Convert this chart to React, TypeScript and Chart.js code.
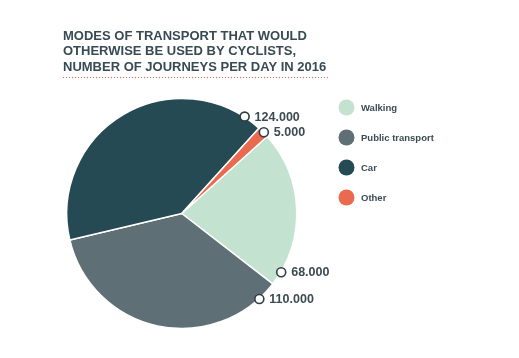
import React, { useEffect, useRef } from "react";
import { Chart, registerables } from "chart.js";

Chart.register(...registerables);

const categories = ["Walking", "Public transport", "Car", "Other"];
const journeys = [68000, 110000, 124000, 5000];
const valueLabels = ["68.000", "110.000", "124.000", "5.000"];
const titleLines = [
  "MODES OF TRANSPORT THAT WOULD",
  "OTHERWISE BE USED BY CYCLISTS,",
  "NUMBER OF JOURNEYS PER DAY IN 2016",
];
const colors = ["#c3e2cf", "#5f6f76", "#264a53", "#ea6a50"];
const markerFractions = [0.91, 0.078, 0.937, 0.54];

const TEXT = "#3c4b52";

const decorPlugin = {
  id: "decor",
  afterDraw(chart: any) {
    const ctx = chart.ctx as CanvasRenderingContext2D;
    ctx.save();
    // title
    ctx.fillStyle = "#384a53";
    ctx.font = "bold 13px 'Liberation Sans', Arial, sans-serif";
    ctx.textBaseline = "alphabetic";
    ctx.textAlign = "left";
    titleLines.forEach((t, i) => {
      ctx.fillText(t, 63, 40 + i * 15.3);
    });
    // dotted line
    ctx.strokeStyle = "#ee6a55";
    ctx.lineWidth = 1;
    ctx.setLineDash([1, 2]);
    ctx.beginPath();
    ctx.moveTo(63, 77.5);
    ctx.lineTo(328, 77.5);
    ctx.stroke();
    ctx.setLineDash([]);

    // legend
    const labels = chart.data.labels as string[];
    const bg = chart.data.datasets[0].backgroundColor as string[];
    ctx.font = "bold 9.5px 'Liberation Sans', Arial, sans-serif";
    ctx.textBaseline = "middle";
    labels.forEach((l, i) => {
      const y = 107.5 + i * 30;
      ctx.fillStyle = bg[i];
      ctx.beginPath();
      ctx.arc(346.5, y, 8, 0, Math.PI * 2);
      ctx.fill();
      ctx.fillStyle = TEXT;
      ctx.fillText(l, 361, y + 0.5);
    });

    // value markers
    const meta = chart.getDatasetMeta(0);
    ctx.font = "bold 12.5px 'Liberation Sans', Arial, sans-serif";
    meta.data.forEach((arc: any, i: number) => {
      const p = arc.getProps(["x", "y", "startAngle", "endAngle", "outerRadius"], true);
      const a = p.startAngle + markerFractions[i] * (p.endAngle - p.startAngle);
      const mx = p.x + Math.cos(a) * (p.outerRadius + 0.5);
      const my = p.y + Math.sin(a) * (p.outerRadius + 0.5);
      ctx.fillStyle = "#ffffff";
      ctx.strokeStyle = "#2f3d44";
      ctx.lineWidth = 1.6;
      ctx.beginPath();
      ctx.arc(mx, my, 4.5, 0, Math.PI * 2);
      ctx.fill();
      ctx.stroke();
      ctx.fillStyle = TEXT;
      ctx.fillText(valueLabels[i], mx + 10, my + 0.5);
    });
    ctx.restore();
  },
};

export default function App() {
  const ref = useRef<HTMLCanvasElement>(null);
  useEffect(() => {
    if (!ref.current) return;
    const chart = new Chart(ref.current, {
      type: "pie",
      data: {
        labels: categories,
        datasets: [
          {
            data: journeys,
            backgroundColor: colors,
            borderColor: "#ffffff",
            borderWidth: 1.5,
          },
        ],
      },
      options: {
        responsive: false,
        animation: false,
        devicePixelRatio: 1,
        rotation: 48,
        layout: { padding: { left: 66, right: 221.5, top: 97.5, bottom: 28.5 } },
        plugins: {
          legend: { display: false },
          tooltip: { enabled: false },
          title: { display: false },
        },
      },
      plugins: [decorPlugin],
    });
    return () => chart.destroy();
  }, []);
  return (
    <div style={{ position: "fixed", left: 0, top: 0, width: 519, height: 358, background: "#fff" }}>
      <canvas ref={ref} width={519} height={358} style={{ display: "block" }} />
    </div>
  );
}
